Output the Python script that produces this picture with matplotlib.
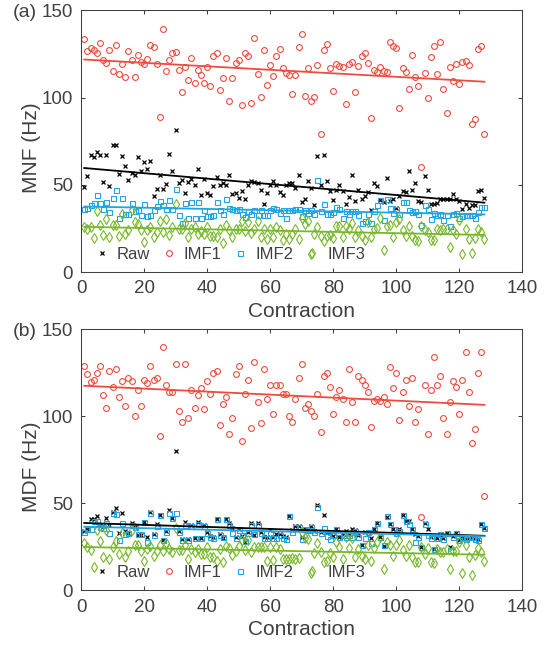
import numpy as np
import matplotlib
matplotlib.use('Agg')
import matplotlib.pyplot as plt

plt.rcParams['font.family'] = ['Liberation Sans', 'DejaVu Sans']

# contraction index
contraction = np.arange(1, 129)

# ---- panel (a): MNF (Hz) ----
mnf_raw = [48.7, 55.2, 67.4, 66.2, 68.7, 67.4, 51.7, 67.4, 49.4, 72.7,
           72.7, 56.5, 66.6, 61.1, 52.7, 57.1, 55.7, 66.0, 57.7, 63.4,
           59.2, 63.5, 43.7, 47.7, 55.9, 47.9, 50.4, 67.6, 58.0, 81.3,
           51.1, 52.9, 45.4, 51.5, 53.1, 50.0, 59.0, 44.3, 53.1, 45.5,
           44.0, 49.4, 54.8, 49.8, 51.1, 50.0, 55.7, 44.7, 45.2, 42.4,
           46.6, 42.0, 50.0, 52.4, 51.5, 50.8, 47.0, 38.9, 45.2, 49.8,
           52.2, 49.8, 45.8, 44.0, 50.0, 51.3, 50.8, 48.0, 55.7, 40.3,
           42.2, 52.3, 48.3, 38.7, 66.4, 50.2, 67.0, 52.3, 46.6, 41.2,
           47.3, 50.2, 46.6, 39.0, 43.2, 55.6, 41.0, 47.0, 42.2, 43.5,
           45.8, 35.5, 50.8, 49.4, 41.2, 40.0, 54.2, 40.7, 42.2, 37.0,
           43.5, 46.6, 45.8, 57.8, 47.3, 51.2, 40.5, 40.3, 55.3, 47.0,
           39.0, 39.0, 39.7, 42.2, 42.2, 42.2, 42.2, 45.0, 42.2, 40.8,
           36.3, 39.0, 37.0, 38.7, 38.7, 46.4, 47.0, 42.6]
mnf_imf1 = [133.8, 127.0, 128.5, 127.5, 125.8, 131.3, 121.4, 119.7, 127.3, 115.3,
            130.4, 113.4, 119.0, 111.7, 126.7, 121.4, 112.0, 124.7, 120.3, 119.5,
            122.2, 130.2, 129.2, 119.1, 89.0, 139.4, 115.3, 121.8, 125.6, 126.4,
            115.9, 103.0, 117.8, 110.0, 122.7, 108.4, 115.9, 112.8, 108.4, 117.8,
            106.5, 123.7, 125.6, 104.2, 111.5, 122.9, 97.9, 111.5, 119.9, 121.4,
            95.8, 125.6, 124.1, 97.0, 134.0, 113.4, 100.6, 127.1, 107.1, 118.7,
            112.3, 123.9, 127.7, 116.7, 114.0, 113.0, 102.0, 113.2, 128.9, 136.3,
            100.8, 116.7, 98.3, 100.2, 118.6, 79.2, 127.5, 130.8, 116.7, 103.9,
            119.0, 118.3, 117.8, 96.2, 119.1, 120.7, 103.0, 118.4, 123.9, 125.8,
            120.1, 88.4, 115.9, 114.4, 117.8, 115.3, 114.7, 131.9, 129.8, 128.3,
            94.3, 116.7, 114.7, 105.2, 124.7, 111.7, 106.5, 60.3, 114.2, 99.8,
            123.4, 129.8, 113.6, 131.7, 105.0, 91.3, 117.6, 109.4, 119.1, 107.8,
            120.7, 120.8, 118.7, 84.8, 87.5, 127.9, 129.6, 79.2]
mnf_imf2 = [36.1, 37.0, 38.2, 39.7, 44.0, 39.7, 36.3, 40.4, 34.2, 42.7,
            47.1, 31.0, 42.4, 33.2, 33.6, 39.7, 35.0, 35.9, 32.9, 39.0,
            32.1, 32.9, 35.5, 37.8, 41.0, 38.2, 36.3, 41.2, 36.3, 47.9,
            32.5, 28.4, 39.7, 31.0, 40.0, 31.0, 40.0, 31.0, 35.5, 32.1,
            32.1, 32.9, 40.0, 35.9, 33.2, 42.0, 36.7, 36.3, 35.5, 36.3,
            33.6, 31.7, 34.8, 33.2, 35.5, 32.9, 35.5, 32.9, 32.9, 35.5,
            37.0, 36.3, 34.0, 35.5, 31.3, 35.5, 35.5, 36.3, 36.3, 32.1,
            35.9, 34.0, 35.5, 33.2, 52.9, 35.3, 38.8, 33.2, 33.2, 34.4,
            37.4, 36.3, 31.3, 34.8, 33.2, 34.8, 35.3, 32.9, 27.9, 29.3,
            33.6, 28.4, 35.0, 38.2, 41.2, 29.8, 41.8, 36.7, 34.0, 36.3,
            33.6, 40.0, 40.0, 35.9, 34.4, 35.1, 33.2, 27.0, 38.2, 36.3,
            30.6, 34.0, 32.9, 33.2, 29.8, 32.5, 26.4, 33.2, 34.0, 31.3,
            32.1, 32.9, 32.5, 32.5, 31.3, 34.4, 37.4, 37.4]
mnf_imf3 = [25.6, 24.9, 26.0, 19.3, 35.2, 27.3, 21.4, 30.5, 20.4, 27.3,
            27.3, 21.0, 33.1, 22.1, 24.1, 35.5, 28.5, 27.5, 24.1, 17.4,
            24.1, 25.6, 20.4, 23.0, 29.1, 23.0, 30.2, 21.4, 25.6, 39.3,
            24.5, 24.5, 28.3, 20.0, 24.5, 26.0, 22.1, 23.7, 22.1, 26.0,
            21.0, 20.6, 20.0, 24.9, 16.9, 27.1, 24.1, 20.4, 24.9, 24.9,
            29.5, 23.7, 28.7, 22.5, 24.5, 29.5, 20.4, 24.9, 19.2, 24.9,
            20.0, 26.0, 24.1, 18.3, 22.1, 19.2, 22.1, 24.5, 19.2, 31.3,
            27.5, 29.5, 10.3, 22.1, 25.6, 20.6, 18.0, 20.6, 21.4, 19.5,
            26.2, 26.2, 20.0, 26.2, 24.9, 28.3, 20.0, 24.1, 21.0, 18.3,
            28.7, 20.0, 24.9, 25.2, 31.3, 12.6, 26.6, 27.1, 20.4, 28.7,
            30.5, 24.1, 21.0, 26.2, 20.6, 18.7, 18.0, 26.2, 24.1, 23.0,
            18.3, 18.3, 24.9, 24.1, 24.5, 24.5, 14.5, 24.1, 22.1, 29.8,
            10.3, 24.9, 19.2, 10.7, 19.3, 24.9, 23.0, 19.2]

# ---- panel (b): MDF (Hz) ----
mdf_raw = [34.3, 35.5, 40.8, 40.8, 42.9, 37.2, 37.2, 41.8, 37.4, 45.2,
           47.1, 33.0, 44.3, 34.3, 33.0, 38.5, 36.6, 31.7, 31.7, 39.5,
           30.8, 45.2, 32.3, 38.0, 43.3, 28.9, 34.3, 46.2, 41.8, 80.0,
           34.0, 29.3, 39.5, 29.3, 37.4, 29.9, 39.5, 29.9, 37.4, 33.7,
           31.2, 30.8, 40.8, 32.3, 29.9, 40.8, 38.9, 35.7, 30.4, 35.1,
           31.2, 28.0, 33.7, 38.9, 31.7, 38.9, 33.7, 30.4, 30.4, 34.7,
           30.4, 32.3, 32.3, 31.2, 30.8, 42.9, 34.7, 37.0, 37.0, 30.8,
           35.5, 35.1, 37.0, 34.3, 49.0, 33.7, 43.3, 33.7, 32.7, 31.2,
           35.5, 30.8, 32.3, 34.3, 32.3, 35.5, 34.7, 31.7, 26.1, 33.7,
           33.7, 29.9, 35.5, 38.9, 30.8, 25.5, 42.3, 38.1, 35.5, 33.0,
           35.5, 43.3, 40.0, 40.0, 35.1, 32.3, 31.2, 24.7, 38.9, 35.1,
           30.4, 23.6, 29.9, 31.7, 29.9, 33.0, 25.1, 31.2, 32.7, 28.9,
           29.9, 29.3, 29.9, 30.8, 29.3, 29.3, 38.1, 35.9]
mdf_imf1 = [129.1, 124.1, 119.9, 121.0, 125.1, 129.1, 112.1, 105.0, 126.0, 117.0,
            127.0, 111.1, 120.1, 106.1, 122.0, 120.1, 100.0, 115.1, 106.1, 121.0,
            119.1, 129.1, 121.0, 122.0, 88.9, 140.0, 118.0, 114.0, 114.0, 130.2,
            103.0, 96.9, 130.2, 99.0, 115.1, 105.0, 112.1, 116.1, 104.0, 120.1,
            113.0, 125.1, 126.0, 95.0, 107.1, 111.1, 90.0, 99.0, 124.1, 129.1,
            86.0, 113.0, 121.0, 93.1, 131.0, 108.0, 96.0, 127.0, 110.0, 118.0,
            101.0, 118.0, 118.0, 113.0, 113.0, 100.0, 96.9, 110.0, 122.0, 130.0,
            105.0, 107.1, 103.0, 100.0, 113.0, 91.0, 123.2, 125.1, 117.0, 101.0,
            111.1, 115.1, 110.0, 96.9, 127.0, 108.0, 96.9, 123.2, 121.0, 118.0,
            114.0, 94.0, 109.0, 110.1, 109.0, 111.1, 107.1, 128.2, 116.1, 125.1,
            98.0, 114.0, 121.0, 105.9, 122.0, 96.9, 104.0, 42.0, 118.0, 90.0,
            115.1, 134.1, 118.0, 123.2, 99.0, 90.0, 108.0, 120.1, 117.0, 101.0,
            121.0, 137.0, 114.0, 84.8, 92.9, 125.1, 137.0, 54.0]
mdf_imf2 = [33.7, 35.1, 35.1, 40.0, 40.0, 36.6, 35.7, 38.9, 33.0, 44.3,
            43.9, 28.9, 38.9, 32.3, 33.0, 37.4, 36.6, 32.3, 32.3, 39.5,
            28.0, 44.3, 31.7, 37.0, 43.3, 28.9, 33.7, 44.3, 41.4, 44.7,
            33.7, 28.9, 37.4, 28.9, 37.0, 29.9, 38.1, 29.9, 37.0, 33.0,
            30.4, 29.9, 40.8, 31.7, 30.4, 40.8, 37.4, 33.0, 29.9, 34.7,
            31.7, 28.5, 32.7, 37.4, 32.3, 37.4, 33.0, 30.0, 30.0, 33.0,
            30.0, 30.0, 31.7, 30.0, 29.3, 42.5, 33.7, 36.6, 36.6, 29.3,
            35.1, 34.7, 36.6, 33.7, 48.0, 33.0, 35.7, 31.2, 29.3, 31.6,
            35.5, 30.4, 31.7, 30.4, 31.6, 30.8, 34.3, 30.4, 26.1, 29.9,
            33.7, 27.4, 35.5, 38.9, 30.4, 26.1, 42.7, 38.1, 35.5, 32.7,
            34.3, 43.1, 40.0, 38.1, 35.1, 28.0, 30.8, 25.1, 38.1, 31.7,
            29.9, 23.6, 29.9, 32.3, 29.3, 32.7, 23.2, 30.4, 33.0, 28.9,
            29.9, 29.3, 30.4, 30.8, 29.3, 28.9, 38.1, 35.9]
mdf_imf3 = [27.0, 25.1, 23.2, 13.2, 34.7, 28.3, 19.0, 34.7, 17.8, 25.1,
            28.3, 20.9, 32.7, 19.0, 22.8, 34.7, 26.1, 26.1, 22.8, 17.0,
            23.6, 25.5, 19.7, 22.8, 26.1, 22.8, 27.0, 23.6, 22.2, 35.7,
            23.2, 23.2, 26.1, 17.8, 23.6, 22.2, 23.6, 20.9, 20.9, 24.7,
            19.4, 19.0, 17.0, 23.6, 16.0, 25.5, 24.1, 20.3, 22.8, 25.5,
            28.9, 23.2, 28.9, 22.2, 24.7, 24.7, 24.7, 24.7, 17.0, 24.7,
            17.4, 24.7, 23.6, 17.9, 17.9, 17.9, 18.6, 17.9, 18.6, 33.5,
            29.9, 29.3, 10.1, 21.6, 27.4, 22.2, 16.0, 17.0, 21.2, 19.0,
            28.0, 24.7, 17.8, 30.8, 24.1, 29.9, 19.0, 23.6, 19.7, 17.8,
            26.1, 17.0, 24.1, 28.0, 30.8, 12.1, 28.0, 26.1, 19.7, 26.1,
            28.9, 23.2, 19.7, 26.1, 19.0, 16.5, 16.0, 24.7, 20.9, 24.1,
            16.0, 15.6, 23.6, 22.2, 22.2, 23.6, 12.1, 22.8, 22.8, 28.0,
            9.8, 26.1, 19.0, 8.9, 20.3, 24.1, 22.2, 17.0]

labels = ['Raw', 'IMF1', 'IMF2', 'IMF3']
colors = ['black', '#EE4B3E', '#22A4E4', '#77B82A']
markers = ['x', 'o', 's', 'd']
msizes = [3.0, 4.2, 3.6, 4.6]

tc = '#404040'
fig = plt.figure(figsize=(5.48, 6.48), dpi=100)
ax_a = fig.add_axes([0.148, 0.580, 0.805, 0.404])
ax_b = fig.add_axes([0.148, 0.089, 0.805, 0.403])

panels = [(ax_a, [mnf_raw, mnf_imf1, mnf_imf2, mnf_imf3], 'MNF (Hz)', '(a)'),
          (ax_b, [mdf_raw, mdf_imf1, mdf_imf2, mdf_imf3], 'MDF (Hz)', '(b)')]

for ax, series, ylab, tag in panels:
    for vals, lab, c, m, ms in zip(series, labels, colors, markers, msizes):
        vals = np.array(vals)
        if m == 'x':
            ax.plot(contraction, vals, linestyle='none', marker=m, ms=ms,
                    mec=c, mew=0.9, label=lab)
        else:
            ax.plot(contraction, vals, linestyle='none', marker=m, ms=ms,
                    mfc='none', mec=c, mew=0.8, label=lab)
    # linear trend lines
    for vals, c in zip(series, colors):
        p = np.polyfit(contraction, vals, 1)
        ax.plot(contraction, np.polyval(p, contraction), color=c, lw=1.3)

    ax.set_xlim(0, 140)
    ax.set_ylim(0, 150)
    ax.set_xticks(np.arange(0, 141, 20))
    ax.set_yticks([0, 50, 100, 150])
    ax.tick_params(direction='in', top=True, right=True, labelsize=13.5,
                   colors=tc, length=3, width=0.75, pad=6)
    for s in ax.spines.values():
        s.set_color(tc)
        s.set_linewidth(0.75)
    ax.set_xlabel('Contraction', fontsize=15, color=tc)
    ax.set_ylabel(ylab, fontsize=15, color=tc)
    ax.xaxis.set_label_coords(0.5, -0.115)
    ax.yaxis.set_label_coords(-0.092, 0.475)
    ax.text(-0.155, 0.99, tag, transform=ax.transAxes, fontsize=14,
            color=tc, va='center', ha='left')
    ax.legend(loc='center left', bbox_to_anchor=(0.0275, 0.068), ncol=4,
              frameon=False, fontsize=12, handletextpad=0.4,
              columnspacing=0.63, handlelength=1.0, borderaxespad=0,
              borderpad=0, labelcolor=tc)

fig.savefig('out.png', dpi=100)
